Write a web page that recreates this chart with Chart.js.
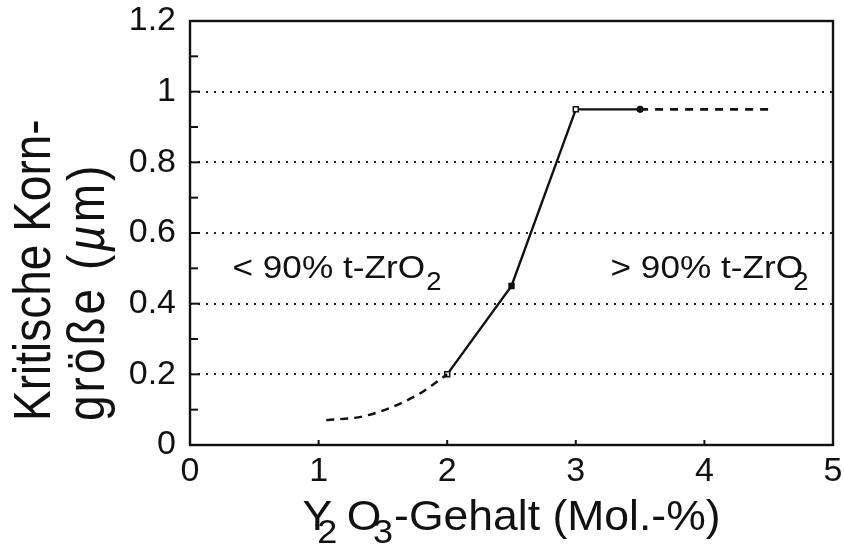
<!DOCTYPE html>
<html>
<head>
<meta charset="utf-8">
<script src="https://cdn.jsdelivr.net/npm/chart.js@4/dist/chart.umd.min.js"></script>
<style>
  html, body { margin: 0; padding: 0; background: #fff; }
  #wrap { width: 844px; height: 545px; }
</style>
</head>
<body>
<div id="wrap"><canvas id="c" width="844" height="545"></canvas></div>
<script>
// Y2O3-Gehalt (Mol.-%) vs. kritische Korngröße (µm)
const measX = [2, 2.5, 3, 3.5];
const measY = [0.2, 0.45, 0.95, 0.95];
const lowX = [1.06, 1.37, 1.76, 2];
const lowY = [0.07, 0.083, 0.14, 0.2];
const highX = [3.5, 4.54];
const highY = [0.95, 0.95];
const xTicks = [0, 1, 2, 3, 4, 5];
const yTickLabels = ['0', '0.2', '0.4', '0.6', '0.8', '1', '1.2'];

const FONT = '"Liberation Sans", Arial, Helvetica, sans-serif';
const INK = '#111';

const pts = (xs, ys) => xs.map((x, i) => ({ x, y: ys[i] }));

// text made of pieces (subscripts / italic), sx = horizontal stretch
function richWidth(ctx, parts) {
    let w = 0;
    for (const p of parts) {
        ctx.font = `${p.italic ? 'italic ' : ''}${p.size}px ${FONT}`;
        w += (p.dx || 0) + ctx.measureText(p.t).width;
    }
    return w;
}

function drawRich(ctx, parts, x, y, sx) {
    ctx.save();
    ctx.translate(x, y);
    ctx.scale(sx, 1);
    ctx.textBaseline = 'alphabetic';
    ctx.textAlign = 'left';
    ctx.fillStyle = INK;
    let cx = 0;
    for (const p of parts) {
        ctx.font = `${p.italic ? 'italic ' : ''}${p.size}px ${FONT}`;
        cx += p.dx || 0;
        ctx.fillText(p.t, cx, p.dy || 0);
        cx += ctx.measureText(p.t).width;
    }
    ctx.restore();
}

const decor = {
    id: 'decor',
    afterDatasetsDraw(chart) {
        const ctx = chart.ctx;
        const a = chart.chartArea;
        const xs = chart.scales.x, ys = chart.scales.y;

        ctx.save();
        ctx.strokeStyle = INK;
        ctx.lineWidth = 2.4;
        ctx.strokeRect(a.left, a.top, a.right - a.left, a.bottom - a.top);

        // inner ticks on the y axis
        ctx.lineWidth = 2;
        ys.ticks.forEach(t => {
            const k = Math.round(t.value * 10);
            if (k <= 0 || k >= 12) return;
            const py = ys.getPixelForValue(t.value);
            ctx.beginPath();
            ctx.moveTo(a.left, py);
            ctx.lineTo(a.left + (k % 2 === 0 ? 10 : 8), py);
            ctx.stroke();
        });
        // inner ticks on the x axis
        xs.ticks.forEach(t => {
            if (t.value <= xs.min || t.value >= xs.max) return;
            const px = xs.getPixelForValue(t.value);
            ctx.beginPath();
            ctx.moveTo(px, a.bottom);
            ctx.lineTo(px, a.bottom - 5);
            ctx.stroke();
        });
        ctx.restore();

        // region labels
        const lbl = (sign, subDx) => [
            { t: sign + ' 90% t-ZrO', size: 32 },
            { t: '2', size: 25, dy: 12, dx: subDx }
        ];
        drawRich(ctx, lbl('<', 1), xs.getPixelForValue(0.33), ys.getPixelForValue(0.472), 1.1);
        drawRich(ctx, lbl('>', -9), xs.getPixelForValue(3.27), ys.getPixelForValue(0.472), 1.1);

        // x axis title
        const xt = [
            { t: 'Y', size: 42 },
            { t: '2', size: 34, dy: 13, dx: -14 },
            { t: 'O', size: 42, dx: 9 },
            { t: '3', size: 34, dy: 13, dx: -8 },
            { t: '-Gehalt (Mol.-%)', size: 42, dx: 1 }
        ];
        const sxX = 1.06;
        const wX = richWidth(ctx, xt) * sxX;
        drawRich(ctx, xt, (a.left + a.right) / 2 - wX / 2, 530, sxX);

        // y axis title (two lines, rotated)
        const line1 = [{ t: 'Kritische Korn-', size: 46 }];
        const line2 = [
            { t: 'größe (', size: 46 },
            { t: 'µ', size: 46, italic: true },
            { t: 'm)', size: 46 }
        ];
        [[line1, 50, 0], [line2, 104, 3]].forEach(([parts, bx, ls]) => {
            ctx.save();
            ctx.translate(bx, 421);
            ctx.scale(1.12, 1);
            ctx.rotate(-Math.PI / 2);
            ctx.letterSpacing = ls + 'px';
            drawRich(ctx, parts, 0, 0, 1);
            ctx.restore();
        });
    }
};

new Chart(document.getElementById('c'), {
    type: 'line',
    data: {
        datasets: [
            {
                data: pts(lowX, lowY),
                borderColor: INK,
                borderWidth: 2.4,
                borderDash: [8, 6],
                pointRadius: 0,
                tension: 0.4,
                cubicInterpolationMode: 'monotone'
            },
            {
                data: pts(highX, highY),
                borderColor: INK,
                borderWidth: 2.6,
                borderDash: [8, 7],
                pointRadius: 0
            },
            {
                data: pts(measX, measY),
                borderColor: INK,
                borderWidth: 2.4,
                tension: 0,
                pointStyle: ['rect', 'rect', 'rect', 'circle'],
                pointRadius: [3.5, 3.5, 3.5, 2.8],
                pointBorderWidth: 1.5,
                pointBorderColor: INK,
                pointBackgroundColor: ['#fff', INK, '#fff', INK]
            }
        ]
    },
    options: {
        responsive: false,
        animation: false,
        events: [],
        layout: { padding: { left: 60, right: 11, top: 21, bottom: 0 } },
        plugins: {
            legend: { display: false },
            tooltip: { enabled: false }
        },
        scales: {
            x: {
                type: 'linear',
                min: xTicks[0],
                max: xTicks[xTicks.length - 1],
                afterBuildTicks: (s) => { s.ticks = xTicks.map(v => ({ value: v })); },
                afterFit: (s) => { s.height = 100; s.paddingLeft = 0; s.paddingRight = 0; },
                ticks: {
                    autoSkip: false,
                    maxRotation: 0,
                    padding: 6,
                    color: INK,
                    font: { family: FONT, size: 34 },
                    callback: (v) => String(v)
                },
                grid: { drawOnChartArea: false, drawTicks: false },
                border: { display: false }
            },
            y: {
                type: 'linear',
                min: 0,
                max: 1.2,
                afterFit: (s) => { s.width = 130; s.paddingTop = 0; s.paddingBottom = 0; },
                ticks: {
                    stepSize: 0.1,
                    autoSkip: false,
                    padding: 14,
                    color: INK,
                    font: { family: FONT, size: 34 },
                    callback: (v) => {
                        const k = Math.round(v * 10);
                        return k % 2 === 0 ? yTickLabels[k / 2] : '';
                    }
                },
                grid: {
                    drawTicks: false,
                    lineWidth: 2,
                    color: (c) => {
                        const k = Math.round(c.tick.value * 10);
                        return (k % 2 === 0 && k > 0 && k < 12) ? '#222' : 'rgba(0,0,0,0)';
                    }
                },
                border: { display: false, dash: [2, 6] }
            }
        }
    },
    plugins: [decor]
});
</script>
</body>
</html>
